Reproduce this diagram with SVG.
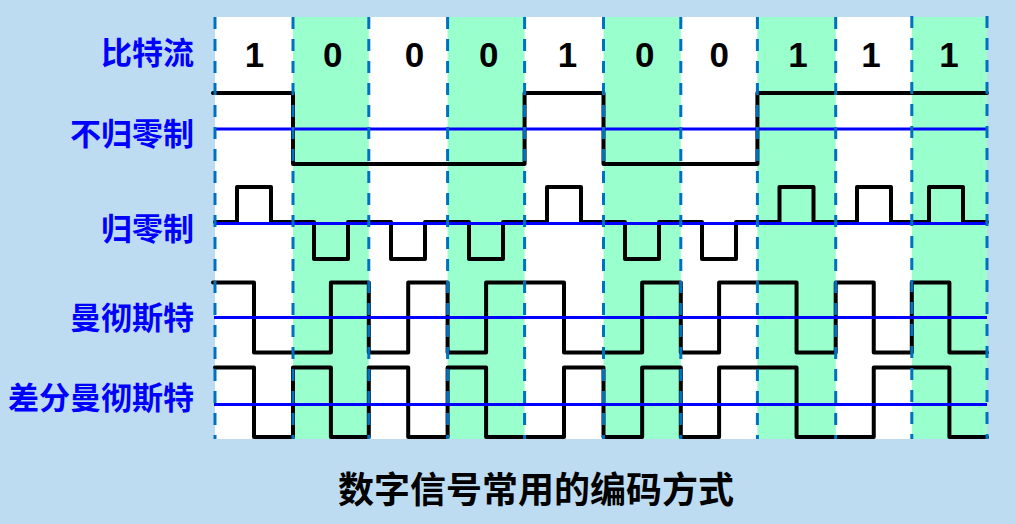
<svg xmlns="http://www.w3.org/2000/svg" width="1016" height="524" viewBox="0 0 1016 524">
  <defs>
    <style>
      .bg { fill: #bedcf1; }
      .white { fill: #ffffff; }
      .green { fill: #99ffcc; }
      .wave { fill: none; stroke: #000000; stroke-width: 4; stroke-linejoin: round; stroke-linecap: round; }
      .axis { stroke: #0000ff; stroke-width: 3.2; }
      .grid { stroke: #0070c0; stroke-width: 3; stroke-dasharray: 12 10; }
      .label { font-family: "Noto Sans CJK SC", "Noto Sans", sans-serif; font-weight: 700; font-size: 31px; fill: #0000ff; text-anchor: end; }
      .bit { font-family: "Liberation Sans", Arial, sans-serif; font-weight: 700; font-size: 35px; fill: #000000; text-anchor: middle; }
      .title { font-family: "Noto Sans CJK SC", "Noto Sans", sans-serif; font-weight: 700; font-size: 36px; fill: #000000; text-anchor: middle; }
    </style>
  </defs>

  <rect class="bg" x="0" y="0" width="1016" height="524"/>

  <g id="plot-area">
    <rect class="white" x="215" y="17" width="772" height="422"/>
    <rect class="green" x="293" y="17" width="75.8" height="422"/>
    <rect class="green" x="447.6" y="17" width="77" height="422"/>
    <rect class="green" x="603.5" y="17" width="77.3" height="422"/>
    <rect class="green" x="757.4" y="17" width="78.3" height="422"/>
    <rect class="green" x="911.8" y="17" width="75.2" height="422"/>
  </g>

  <g id="labels">
    <text class="label" x="194" y="64">比特流</text>
    <text class="label" x="194" y="145">不归零制</text>
    <text class="label" x="194" y="240">归零制</text>
    <text class="label" x="194" y="329">曼彻斯特</text>
    <text class="label" x="194" y="409">差分曼彻斯特</text>
  </g>

  <g id="bits">
    <text class="bit" x="254.5" y="67">1</text>
    <text class="bit" x="332.7" y="67">0</text>
    <text class="bit" x="414.5" y="67">0</text>
    <text class="bit" x="488.7" y="67">0</text>
    <text class="bit" x="567.5" y="67">1</text>
    <text class="bit" x="644.7" y="67">0</text>
    <text class="bit" x="719.3" y="67">0</text>
    <text class="bit" x="798" y="67">1</text>
    <text class="bit" x="871" y="67">1</text>
    <text class="bit" x="949" y="67">1</text>
  </g>

  <g id="waveforms">
    <path id="nrz" class="wave" d="M 213 93 H 293 V 164 H 524.6 V 93 H 603.5 V 164 H 757.4 V 93 H 987"/>
    <path id="rz" class="wave" d="M 215 222 H 237 V 187 H 271 V 222 H 314 V 259 H 348 V 222 H 391 V 259 H 425 V 222 H 469 V 259 H 503 V 222 H 547 V 187 H 581 V 222 H 625 V 259 H 659 V 222 H 702 V 259 H 736 V 222 H 779.5 V 187 H 813.5 V 222 H 857 V 187 H 891 V 222 H 929 V 187 H 963 V 222 H 987"/>
    <path id="manchester" class="wave" d="M 213 282.5 H 254 V 352.5 H 330.9 V 282.5 H 368.8 V 352.5 H 408.2 V 282.5 H 447.6 V 352.5 H 486.1 V 282.5 H 564 V 352.5 H 642.15 V 282.5 H 680.8 V 352.5 H 719.1 V 282.5 H 796.55 V 352.5 H 835.7 V 282.5 H 873.75 V 352.5 H 911.8 V 282.5 H 949.4 V 352.5 H 987"/>
    <path id="diff-manchester" class="wave" d="M 215 367.5 H 254 V 437 H 293 V 367.5 H 330.9 V 437 H 368.8 V 367.5 H 408.2 V 437 H 447.6 V 367.5 H 486.1 V 437 H 564 V 367.5 H 603.5 V 437 H 642.15 V 367.5 H 680.8 V 437 H 719.1 V 367.5 H 796.55 V 437 H 873.75 V 367.5 H 949.4 V 437 H 987"/>
  </g>

  <g id="baselines">
    <line class="axis" x1="214" y1="129" x2="987" y2="129"/>
    <line class="axis" x1="214" y1="223.5" x2="987" y2="223.5"/>
    <line class="axis" x1="214" y1="317.5" x2="987" y2="317.5"/>
    <line class="axis" x1="214" y1="404.5" x2="987" y2="404.5"/>
  </g>

  <g id="connectors">
    <line class="grid" x1="215" y1="17" x2="215" y2="439"/>
    <line class="grid" x1="293" y1="17" x2="293" y2="439"/>
    <line class="grid" x1="368.8" y1="17" x2="368.8" y2="439"/>
    <line class="grid" x1="447.6" y1="17" x2="447.6" y2="439"/>
    <line class="grid" x1="524.6" y1="17" x2="524.6" y2="439"/>
    <line class="grid" x1="603.5" y1="17" x2="603.5" y2="439"/>
    <line class="grid" x1="680.8" y1="17" x2="680.8" y2="439"/>
    <line class="grid" x1="757.4" y1="17" x2="757.4" y2="439"/>
    <line class="grid" x1="835.7" y1="17" x2="835.7" y2="439"/>
    <line class="grid" x1="911.8" y1="16" x2="911.8" y2="439"/>
    <line class="grid" x1="987" y1="16" x2="987" y2="439"/>
  </g>

  <g id="title">
    <text class="title" x="536" y="503">数字信号常用的编码方式</text>
  </g>
</svg>
